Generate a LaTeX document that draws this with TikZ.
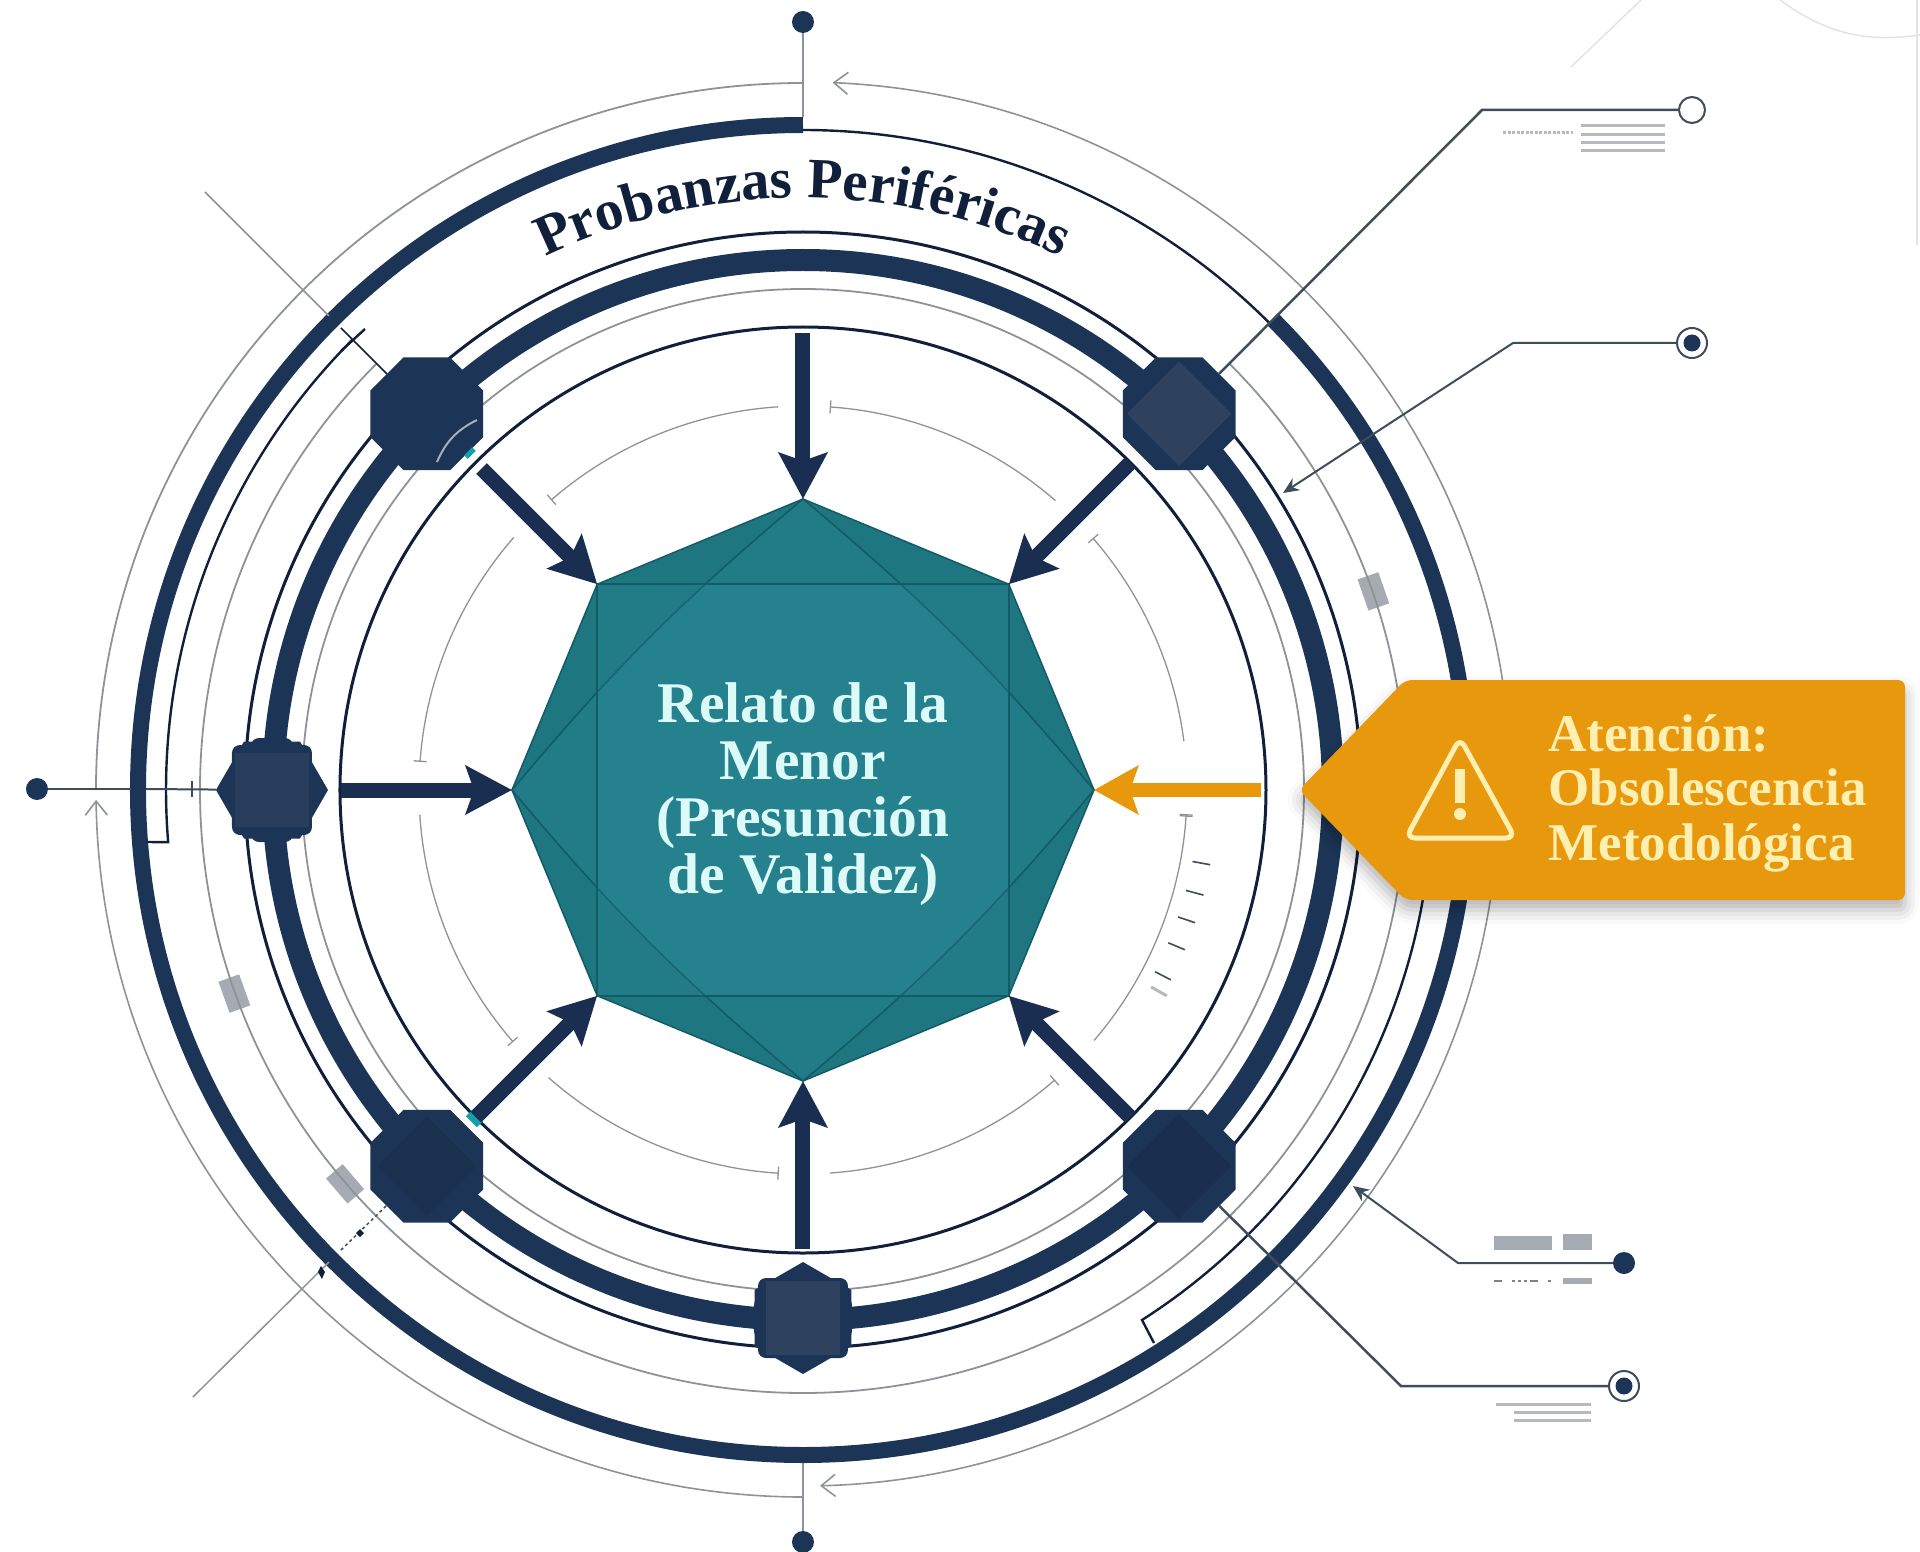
\documentclass[tikz,border=0pt]{standalone}
\usepackage{fontspec}
\setmainfont{Liberation Serif}
\usetikzlibrary{shapes.geometric, shapes.symbols, arrows.meta, decorations.text, shadows.blur}

\definecolor{navy}{HTML}{1C3557}
\definecolor{ink}{HTML}{101F3A}
\definecolor{shaft}{HTML}{1A2E52}
\definecolor{corelight}{HTML}{2E415F}
\definecolor{coredark}{HTML}{1A2F50}
\definecolor{slate}{HTML}{3F4C5C}
\definecolor{midgray}{HTML}{8E9398}
\definecolor{chipgray}{HTML}{A6ABB3}
\definecolor{rulegray}{HTML}{B6B9BF}
\definecolor{faint}{HTML}{E2E3E5}
\definecolor{teal}{HTML}{1E7680}
\definecolor{tealfacet}{HTML}{3BA6B2}
\definecolor{tealline}{HTML}{125C67}
\definecolor{mint}{HTML}{DCFAF7}
\definecolor{amber}{HTML}{E8980C}
\definecolor{cream}{HTML}{FFEFB0}

\tikzset{
    thinring/.style={draw=ink, line width=3pt},
    grayring/.style={draw=midgray, line width=1.8pt},
    darkring/.style={draw=navy},
    tickarc/.style={draw=midgray, line width=1.3pt, -{Bar[width=13pt,line width=1.3pt]}},
    chevron/.style={draw=midgray, line width=1.6pt, -{Straight Barb[length=14pt,width=22pt,line width=1.6pt]}},
    joint/.style={regular polygon, regular polygon sides=8, minimum size=122pt, inner sep=0pt, outer sep=0pt, fill=navy},
    hexjoint/.style={regular polygon, regular polygon sides=6, minimum size=112pt, inner sep=0pt, outer sep=0pt, fill=navy},
    backing/.style={rectangle, fill=navy, inner sep=0pt, rounded corners=8pt},
    core/.style={rectangle, minimum size=74pt, inner sep=0pt, fill=#1},
    hubshape/.style={regular polygon, regular polygon sides=8, minimum size=582pt, inner sep=0pt, outer sep=0pt, shape border rotate=22.5, fill=teal, draw=tealline, line width=1.5pt},
    facet/.style={draw=tealline, line width=1.6pt, fill=tealfacet, fill opacity=.14},
    link/.style={draw=shaft, line width=15pt, shorten <=13pt, -{Stealth[length=46pt,width=48pt,inset=8pt]}},
    warnlink/.style={draw=amber, line width=14pt, shorten <=38pt, -{Stealth[length=44pt,width=48pt,inset=8pt]}},
    leader/.style={draw=slate, line width=2pt},
    pointer/.style={draw=slate, line width=2pt, -{Stealth[length=16pt,width=14pt]}},
    graylead/.style={draw=midgray, line width=1.5pt},
    dot/.style={circle, fill=navy, minimum size=22pt, inner sep=0pt, outer sep=0pt},
    openmark/.style={circle, draw=slate, fill=white, line width=2pt, minimum size=26pt, inner sep=0pt, outer sep=0pt},
    targetmark/.style={circle, draw=slate, fill=white, line width=2pt, minimum size=30pt, inner sep=0pt, outer sep=0pt},
    chip/.style={rectangle, fill=chipgray, minimum width=22pt, minimum height=33pt, inner sep=0pt},
    greyrule/.style={draw=rulegray, line width=3pt},
    radmark/.style={draw=slate, line width=1.6pt},
    warnbox/.style={signal, signal to=west, signal pointer angle=92, minimum width=606pt, minimum height=220pt, inner sep=0pt, outer sep=0pt, anchor=west, fill=amber, rounded corners=7pt, blur shadow={shadow xshift=0pt, shadow yshift=-10pt, shadow blur radius=14pt, shadow opacity=30}},
    warnmark/.style={draw=cream, line width=5pt, rounded corners=9pt},
    hubtext/.style={text=mint, font=\bfseries\fontsize{57.5}{57}\selectfont, align=center},
    warntext/.style={text=cream, font=\bfseries\fontsize{53}{54.5}\selectfont, align=left, anchor=west},
}
\newcommand{\bandfont}{\bfseries\fontsize{57}{57}\selectfont}

\begin{document}
\begin{tikzpicture}[x=1pt, y=1pt]
    \useasboundingbox (-803,-761) rectangle (1117,790);

    \draw[faint, line width=1.5pt] (768,723) -- (838,790);
    \draw[faint, line width=1.5pt] (977,790) to[bend right=22] (1117,755);
    \draw[faint, line width=1.5pt] (1114,790) -- (1114,545);

    \node[chip, rotate=19.2] (chipa) at (19.2:604) {};
    \node[chip, rotate=199.7] (chipb) at (199.7:604) {};
    \node[chip, rotate=220.7] (chipc) at (220.7:604) {};

    \draw[thinring] (0,0) circle (463);
    \draw[grayring] (0,0) circle (501);
    \draw[darkring, line width=22pt] (0,0) circle (530);
    \draw[thinring] (0,0) circle (558);
    \draw[grayring] (45:603) arc (45:-225:603);
    \draw[darkring, line width=16pt] (90:665) arc (90:405:665);
    \draw[thinring, line width=2.4pt] (90:660) arc (90:45:660);

    \draw[thinring, line width=2.4pt] (-656,-52) -- (184.7:637) arc (184.7:135:637);
    \draw[thinring, line width=2.4pt] (351,-553) -- (339,-530) arc (-57.4:-8:630);

    \draw[chevron] (0:708) arc (0:87.6:708);
    \draw[chevron] (0:696) arc (0:-88.6:696);
    \draw[grayring] (90:707) arc (90:180:707);
    \draw[chevron] (270:707) arc (270:180.8:707);

    \draw[tickarc] (93.7:384) arc (93.7:131:384);
    \draw[tickarc] (48.9:384) arc (48.9:86:384);
    \draw[tickarc] (7.3:384) arc (7.3:41:384);
    \draw[draw=midgray, line width=1.3pt, -{Bar[width=13pt,line width=1.3pt]Bar[width=13pt,line width=1.3pt]}] (-40.7:384) arc (-40.7:-3.6:384);
    \draw[tickarc] (-86:384) arc (-86:-49:384);
    \draw[tickarc] (228.5:384) arc (228.5:266.4:384);
    \draw[tickarc] (183.7:384) arc (183.7:221:384);
    \draw[tickarc] (138.9:384) arc (138.9:175.8:384);
    \foreach \a in {-10.4,-14.7,-18.7,-22.7,-27.3} {
        \draw[radmark] (\a:396) -- (\a:414);
    }
    \draw[radmark, draw=rulegray, line width=3pt] (-29.5:400) -- (-29.5:418);

    \node[backing, minimum width=80pt, minimum height=90pt] (lfback) at (180:531) {};
    \node[backing, minimum width=42pt, minimum height=104pt] (lfneck) at (180:531) {};
    \node[backing, minimum width=90pt, minimum height=80pt] (btback) at (-90:528) {};
    \node[backing, minimum width=98pt, minimum height=42pt] (btneck) at (-90:528) {};

    \node[joint] (tl) at (135:532) {};
    \node[joint] (tr) at (45:532) {};
    \node[hexjoint] (lf) at (180:531) {};
    \node[joint] (bl) at (225:532) {};
    \node[joint] (br) at (-45:532) {};
    \node[hexjoint, shape border rotate=30] (bt) at (-90:528) {};

    \node[core=corelight, rotate=45] (trcore) at (tr) {};
    \node[core=coredark, rotate=45] (brcore) at (br) {};
    \node[core=navy!90!black, rotate=45, minimum size=70pt] (blcore) at (bl) {};
    \node[core=corelight!70!navy] (lfcore) at (lf) {};
    \node[core=corelight] (btcore) at (bt) {};
    \draw[white!60!navy, line width=2pt] (-366,328) to[bend left=20] (-326,370);
    \draw[teal!70!cyan, line width=5pt] (-337,333) -- (-329,341);
    \draw[teal!70!cyan, line width=9pt] (-334,-323) -- (-323,-334);

    \node[hubshape] (hub) at (0,0) {};
    \draw[facet] (hub.corner 1) to[bend right=5] (hub.corner 3) to[bend right=5] (hub.corner 5) to[bend right=5] (hub.corner 7) to[bend right=5] cycle;
    \draw[facet] (hub.corner 2) -- (hub.corner 4) -- (hub.corner 6) -- (hub.corner 8) -- cycle;
    \node[hubtext] (hublabel) at (0,-4) {Relato de la\\Menor\\(Presunción\\de Validez)};

    \coordinate (topstart) at (0,457);
    \draw
        (topstart) edge[link, shorten <=0pt] (hub)
        (tl) edge[link, shorten <=21pt] (hub)
        (tr) edge[link] (hub)
        (lf) edge[link] (hub)
        (bl) edge[link] (hub)
        (br) edge[link] (hub)
        (bt) edge[link] (hub)
        ;

    \path[decorate, decoration={text along path, text={|\color{ink}\bandfont|Probanzas Periféricas}, text align=center}]
        (116:592) arc (116:64:592);

    \node[dot] (north) at (0,768) {};
    \node[dot] (south) at (0,-752) {};
    \node[dot] (west) at (-766,1) {};
    \coordinate (northfoot) at (0,673);
    \coordinate (southfoot) at (0,-673);
    \coordinate (westfoot) at (-672,1);
    \draw[graylead, line width=2pt] (north) -- (northfoot);
    \draw[graylead, line width=2pt] (south) -- (southfoot);
    \draw[leader] (west) -- (westfoot);
    \draw[leader] (-657,1) -- (lf);
    \draw[leader, line width=2.5pt] (-611,-7) -- (-611,9);

    \coordinate (tlout) at (-598,598);
    \coordinate (tlring) at (-474,474);
    \coordinate (tlin) at (-462,462);
    \draw[graylead] (tlout) -- (tlring);
    \draw[thinring, line width=1.6pt] (tlin) -- (tl);
    \draw[thinring, line width=2.4pt] (-462,439) -- (-438,461);

    \coordinate (blout) at (-610,-607);
    \coordinate (blring) at (-474,-472);
    \coordinate (blin) at (-462,-460);
    \draw[graylead] (blout) -- (blring);
    \draw[graylead, draw=slate, dashed] (blin) -- (bl);
    \fill[ink] (-485,-482) -- (-481,-489) -- (-478,-482) -- (-482,-476) -- cycle;
    \fill[ink] (-443,-439) -- (-447,-443) -- (-443,-447) -- (-439,-443) -- cycle;

    \node[openmark] (openc) at (889,680) {};
    \coordinate (opene) at (679,680);
    \draw[leader, line width=2.5pt] (openc) -- (opene) -- (tr);
    \draw[greyrule] (778,664) -- (862,664);
    \draw[greyrule] (778,655) -- (862,655);
    \draw[greyrule] (778,647) -- (862,647);
    \draw[greyrule] (778,639) -- (862,639);
    \draw[rulegray, line width=3pt, dash pattern=on 3pt off 1.5pt] (700,657) -- (770,657);

    \node[targetmark] (ringa) at (889,447) {};
    \fill[navy] (ringa) circle (8.5);
    \coordinate (ringae) at (710,447);
    \coordinate (ringat) at (480,297);
    \draw[pointer] (ringa) -- (ringae) -- (ringat);

    \node[dot] (dotb) at (821,-473) {};
    \coordinate (dotbe) at (655,-473);
    \coordinate (dotbt) at (550,-396);
    \draw[pointer] (dotb) -- (dotbe) -- (dotbt);
    \fill[chipgray] (691,-446) rectangle (749,-460);
    \fill[chipgray] (760,-444) rectangle (789,-460);
    \fill[chipgray] (760,-488) rectangle (789,-494);
    \draw[slate!70, line width=2pt, dash pattern=on 8pt off 10pt on 3pt off 3pt on 3pt off 3pt on 3pt off 3pt] (691,-491) -- (749,-491);

    \node[targetmark] (ringb) at (821,-596) {};
    \fill[navy] (ringb) circle (8.5);
    \coordinate (ringbe) at (598,-596);
    \draw[leader, line width=2.5pt] (ringb) -- (ringbe) -- (br);
    \draw[greyrule] (693,-614) -- (788,-614);
    \draw[greyrule] (711,-622.5) -- (788,-622.5);
    \draw[greyrule] (711,-630) -- (788,-630);

    \node[warnbox] (warn) at (496,0) {};
    \draw (warn.west) edge[warnlink] (hub);
    \draw[warnmark] (657,52) -- (712,-48) -- (603,-48) -- cycle;
    \draw[cream, line width=10pt] (657,21) -- (657,-13);
    \fill[cream] (657,-24) circle (6);
    \node[warntext] (warnlabel) at (742,-3) {Atención:\\Obsolescencia\\Metodológica};
\end{tikzpicture}
\end{document}
